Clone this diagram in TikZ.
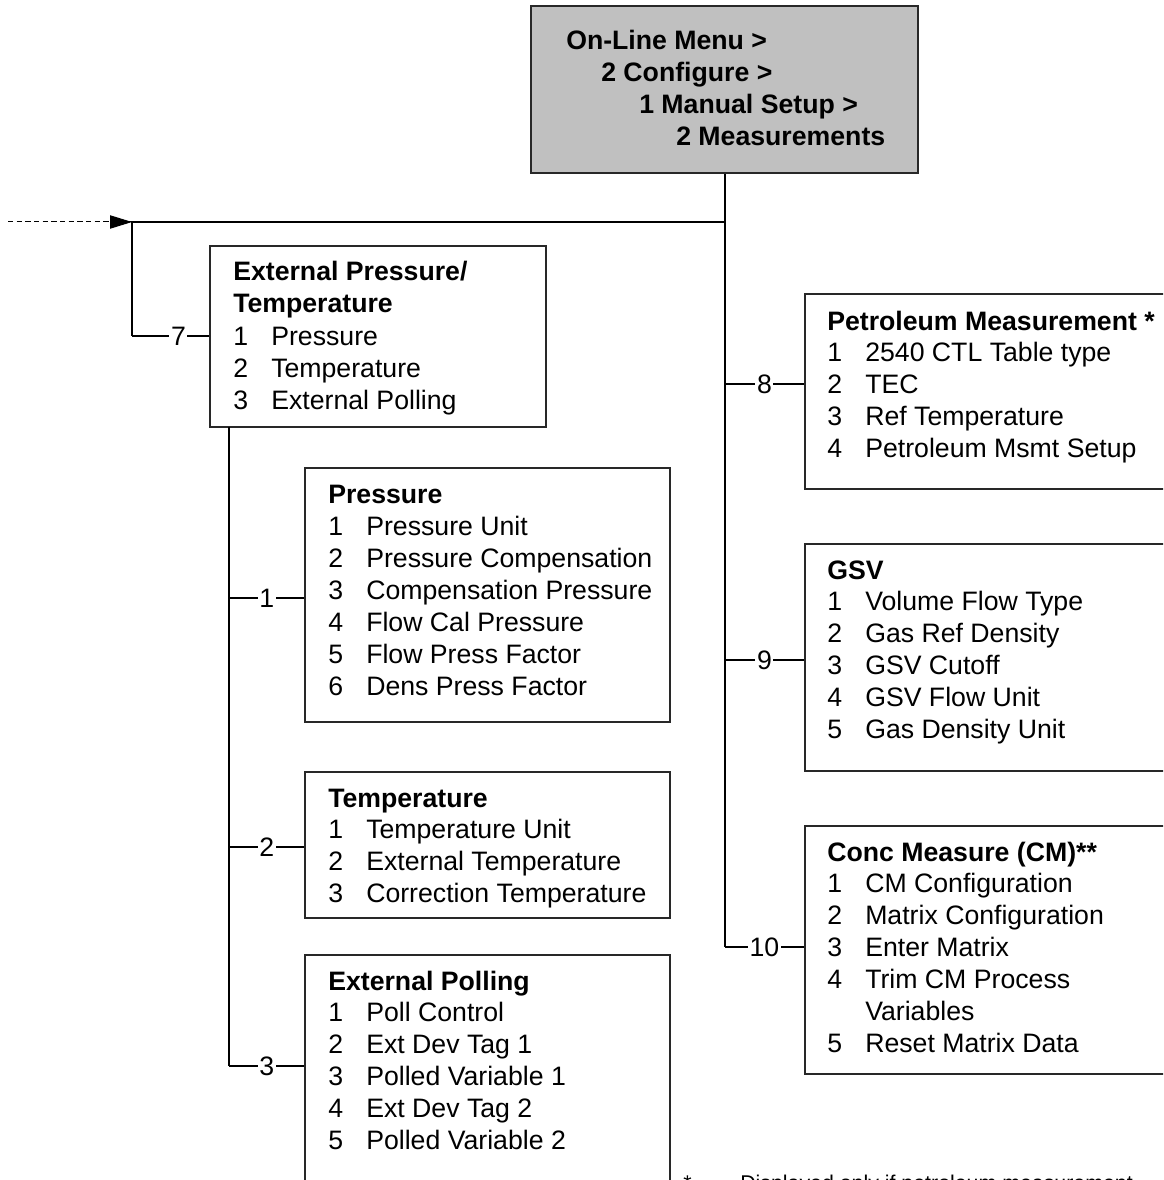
\documentclass[tikz,border=0pt]{standalone}
\usepackage{fontspec}
\setmainfont{Liberation Sans}
\usetikzlibrary{arrows.meta,fit}
\definecolor{boxgray}{RGB}{192,192,192}
\definecolor{boxline}{RGB}{40,40,40}
\newcommand\mitem[5]{\node[txt] (#1n) at (#2,#3) {#4}; \node[txt] (#1) at ({#2+38},#3) {#5};}
\begin{document}
\begin{tikzpicture}[x=0.75pt,y=-0.75pt,
  box/.style={draw=boxline, line width=0.9pt, inner sep=0pt},
  topbox/.style={box, fill=boxgray},
  txt/.style={anchor=base west, inner sep=0pt, font=\fontsize{20}{24}\selectfont},
  ttl/.style={txt, font=\fontsize{20}{24}\selectfont\bfseries},
  note/.style={anchor=base west, inner sep=0pt, font=\fontsize{16}{19}\selectfont},
  trunk/.style={line width=1.5pt, black},
  conn/.style={line width=1pt, black},
  lbl/.style={fill=white, inner sep=1.2pt, font=\fontsize{20}{24}\selectfont},
]
\useasboundingbox (0,0) rectangle (1163,1180);
\clip (0,0) rectangle (1163,1180);
\fill[white] (0,0) rectangle (1163,1180);

% ---- boxes
\node[topbox, fit={(531,6) (918,173)}] (top) {};
\node[box, fit={(210,246) (546,427)}] (ptbox) {};
\node[box, fit={(305,468) (670,722)}] (prbox) {};
\node[box, fit={(305,772) (670,918)}] (tebox) {};
\node[box, fit={(305,955) (670,1210)}] (epbox) {};
\node[box, fit={(805,294) (1175,489)}] (pmbox) {};
\node[box, fit={(805,544) (1175,771)}] (gsbox) {};
\node[box, fit={(805,826) (1175,1074)}] (cmbox) {};

% ---- top box text
\node[ttl] (t1) at (566,50) {On-Line Menu >};
\node[ttl] (t2) at (601,82) {2 Configure >};
\node[ttl] (t3) at (639,114) {1 Manual Setup >};
\node[ttl] (t4) at (676,146) {2 Measurements};

% ---- External Pressure/Temperature
\node[ttl] (pt0) at (233,281) {External Pressure/};
\node[ttl] (pt00) at (233,313) {Temperature};
\mitem{pt1}{233}{345}{1}{Pressure}
\mitem{pt2}{233}{377}{2}{Temperature}
\mitem{pt3}{233}{409}{3}{External Polling}

% ---- Pressure
\node[ttl] (pr0) at (328,503) {Pressure};
\mitem{pr1}{328}{535}{1}{Pressure Unit}
\mitem{pr2}{328}{567}{2}{Pressure Compensation}
\mitem{pr3}{328}{599}{3}{Compensation Pressure}
\mitem{pr4}{328}{631}{4}{Flow Cal Pressure}
\mitem{pr5}{328}{663}{5}{Flow Press Factor}
\mitem{pr6}{328}{695}{6}{Dens Press Factor}

% ---- Temperature
\node[ttl] (te0) at (328,807) {Temperature};
\mitem{te1}{328}{838}{1}{Temperature Unit}
\mitem{te2}{328}{870}{2}{External Temperature}
\mitem{te3}{328}{902}{3}{Correction Temperature}

% ---- External Polling
\node[ttl] (ep0) at (328,990) {External Polling};
\mitem{ep1}{328}{1021}{1}{Poll Control}
\mitem{ep2}{328}{1053}{2}{Ext Dev Tag 1}
\mitem{ep3}{328}{1085}{3}{Polled Variable 1}
\mitem{ep4}{328}{1117}{4}{Ext Dev Tag 2}
\mitem{ep5}{328}{1149}{5}{Polled Variable 2}

% ---- Petroleum Measurement
\node[ttl] (pm0) at (827,330) {Petroleum Measurement *};
\mitem{pm1}{827}{361}{1}{2540 CTL Table type}
\mitem{pm2}{827}{393}{2}{TEC}
\mitem{pm3}{827}{425}{3}{Ref Temperature}
\mitem{pm4}{827}{457}{4}{Petroleum Msmt Setup}

% ---- GSV
\node[ttl] (gs0) at (827,579) {GSV};
\mitem{gs1}{827}{610}{1}{Volume Flow Type}
\mitem{gs2}{827}{642}{2}{Gas Ref Density}
\mitem{gs3}{827}{674}{3}{GSV Cutoff}
\mitem{gs4}{827}{706}{4}{GSV Flow Unit}
\mitem{gs5}{827}{738}{5}{Gas Density Unit}

% ---- Conc Measure
\node[ttl] (cm0) at (827,861) {Conc Measure (CM)**};
\mitem{cm1}{827}{892}{1}{CM Configuration}
\mitem{cm2}{827}{924}{2}{Matrix Configuration}
\mitem{cm3}{827}{956}{3}{Enter Matrix}
\mitem{cm4}{827}{988}{4}{Trim CM Process}
\node[txt] (cm4b) at (865,1020) {Variables};
\mitem{cm5}{827}{1052}{5}{Reset Matrix Data}

% ---- footnote (cut by the page edge)
\node[note] (fn0) at (683,1190) {*};
\node[note] (fn1) at (740,1190) {Displayed only if petroleum measurement};

% ---- trunk coordinates
\coordinate (jn) at (724.5,222);
\coordinate (lc) at (132,222);
\coordinate (start) at (8,222);
\coordinate (tr7) at (132,336);
\coordinate (tr8) at (724.5,384);
\coordinate (tr9) at (724.5,660);
\coordinate (tr10) at (724.5,947);
\coordinate (lt) at (229,427);
\coordinate (tr1) at (229,598);
\coordinate (tr2) at (229,847);
\coordinate (tr3) at (229,1066);

% ---- connectors
\draw[dashed, line width=0.75pt, dash pattern=on 4pt off 2.5pt] (start) -- (lc);
\draw[-{Triangle[length=16.5pt,width=10pt]}, line width=0.75pt] ([xshift=-16pt]lc) -- (lc);
\draw[trunk] (top.south) -- (tr10);
\draw[trunk] (jn) -- (lc) -- (tr7);
\draw[trunk] (lt) -- (tr3);
\draw[conn] (tr7) -- node[lbl, pos=0.6] {7} (tr7 -| ptbox.west);
\draw[conn] (tr8) -- node[lbl] {8} (tr8 -| pmbox.west);
\draw[conn] (tr9) -- node[lbl] {9} (tr9 -| gsbox.west);
\draw[conn] (tr10) -- node[lbl] {10} (tr10 -| cmbox.west);
\draw[conn] (tr1) -- node[lbl] {1} (tr1 -| prbox.west);
\draw[conn] (tr2) -- node[lbl] {2} (tr2 -| tebox.west);
\draw[conn] (tr3) -- node[lbl] {3} (tr3 -| epbox.west);
\end{tikzpicture}
\end{document}
